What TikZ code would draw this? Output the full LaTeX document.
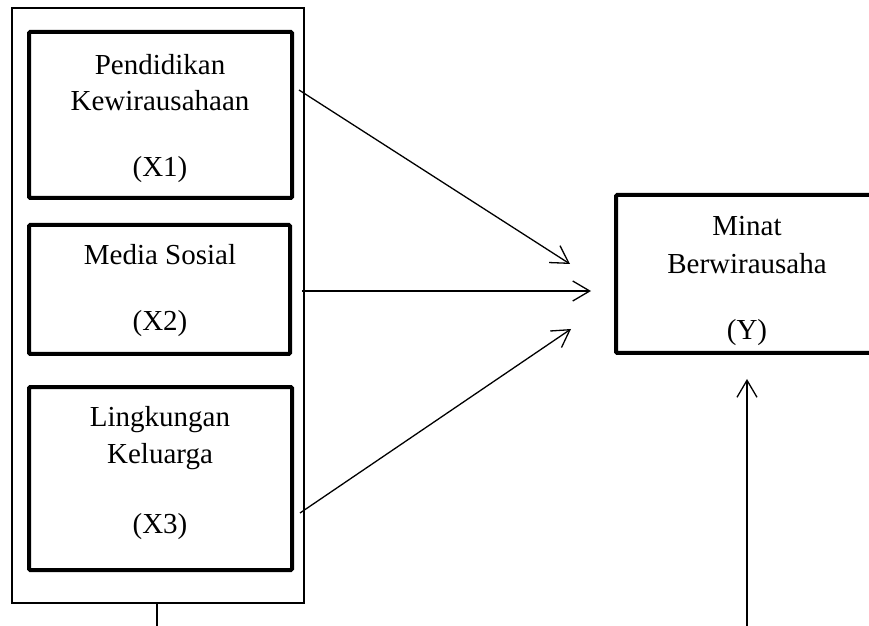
\documentclass[tikz,border=0pt]{standalone}
\usepackage{fontspec}
\setmainfont{Liberation Serif}
\usetikzlibrary{arrows.meta,fit}
\begin{document}
\begin{tikzpicture}[x=0.5pt,y=-0.5pt,
  thickbox/.style={draw, line width=2pt, rounded corners=0.6pt, inner sep=0pt},
  thinbox/.style={draw, line width=0.6pt, inner sep=0pt},
  lbl/.style={font=\fontsize{14.5}{17}\selectfont, inner sep=0pt, anchor=base},
  conn/.style={line width=0.65pt, -{Straight Barb[length=8.5pt,width=10pt,line width=0.65pt]}},
  plain/.style={line width=0.65pt}]
\useasboundingbox (0,0) rectangle (869,626);
\clip (0,0) rectangle (869,626);
% outer frame
\node[thinbox, fit={(12,8) (304,603)}] (frame) {};
% X boxes
\node[thickbox, fit={(29,32) (292,198)}] (x1) {};
\node[thickbox, fit={(29,225) (290,354)}] (x2) {};
\node[thickbox, fit={(29,387) (292,570)}] (x3) {};
% Y box (right side runs off the page)
\node[thickbox, fit={(616,195) (900,353)}] (y) {};
% texts
\node[lbl] (t1a) at (160,75) {Pendidikan};
\node[lbl] (t1b) at (160,111) {Kewirausahaan};
\node[lbl] (t1c) at (160,177) {(X1)};
\node[lbl] (t2a) at (160,264) {Media Sosial};
\node[lbl] (t2b) at (160,330) {(X2)};
\node[lbl] (t3a) at (160,426) {Lingkungan};
\node[lbl] (t3b) at (160,464) {Keluarga};
\node[lbl] (t3c) at (160,533) {(X3)};
\node[lbl] (tya) at (747,235) {Minat};
\node[lbl] (tyb) at (747,274) {Berwirausaha};
\node[lbl] (tyc) at (747,340) {(Y)};
% connector end points
\coordinate (a1s) at (299,90);
\coordinate (a1e) at (570,264);
\coordinate (a2s) at (302,291);
\coordinate (a2e) at (591,291);
\coordinate (a3s) at (300,513);
\coordinate (a3e) at (571,329);
\coordinate (a4s) at (747,630);
\coordinate (a4e) at (747,379);
\coordinate (fb) at (157,603);
\coordinate (fbe) at (157,630);
% connectors
\draw[conn] (a1s) -- (a1e);
\draw[conn] (a2s) -- (a2e);
\draw[conn] (a3s) -- (a3e);
\draw[conn] (a4s) -- (a4e);
\draw[plain] (fb) -- (fbe);
\end{tikzpicture}
\end{document}
